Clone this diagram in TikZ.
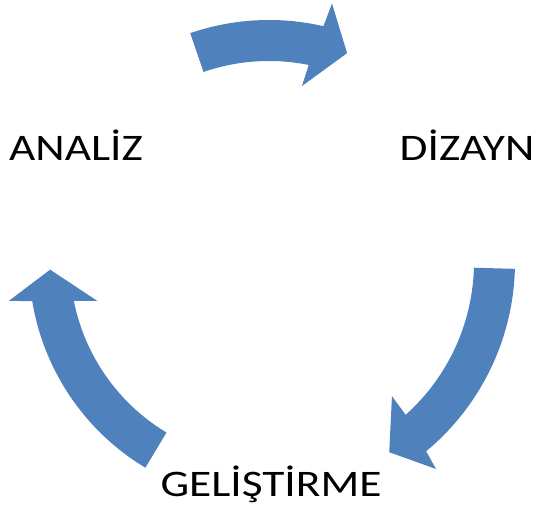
\documentclass[tikz,border=0pt]{standalone}
\usepackage{fontspec}
\setmainfont{Carlito}
\usetikzlibrary{calc}
\definecolor{arrowblue}{HTML}{4F81BD}
\begin{document}
\begin{tikzpicture}[x=1pt,y=1pt,
  cyc/.style={fill=arrowblue,draw=none},
  lbl/.style={anchor=base,inner sep=0pt,xscale=1.21,font=\fontsize{37.5}{40}\selectfont}]
\useasboundingbox (0,0) rectangle (534,518);
\coordinate (C) at (269,256);
% top arrow
\fill[cyc] ($(C)+(109:242)$) arc[start angle=109,end angle=77,radius=242]
  -- ($(C)+(76.3:266)$) -- ($(C)+(69.5:223)$) -- ($(C)+(79.4:179)$)
  -- ($(C)+(78.6:201)$) arc[start angle=78.6,end angle=109,radius=201] -- cycle;
% right arrow
\fill[cyc] ($(C)+(-1.6:246)$) arc[start angle=-1.6,end angle=-50.3,radius=246]
  -- ($(C)+(-51.1:266)$) -- ($(C)+(-57.7:225)$) -- ($(C)+(-47.5:182)$)
  -- ($(C)+(-48.2:205)$) arc[start angle=-48.2,end angle=-1.6,radius=205] -- cycle;
% left arrow
\fill[cyc] ($(C)+(239:240)$) arc[start angle=239,end angle=189.4,radius=240]
  -- ($(C)+(188.5:263)$) -- ($(C)+(182:219)$) -- ($(C)+(192.8:176)$)
  -- ($(C)+(191.3:199)$) arc[start angle=191.3,end angle=239,radius=199] -- cycle;
\node[lbl] (analiz) at (76,357) {ANALİZ};
\node[lbl] (dizayn) at (467,357) {DİZAYN};
\node[lbl] (gelistirme) at (271,21) {GELİŞTİRME};
\end{tikzpicture}
\end{document}
